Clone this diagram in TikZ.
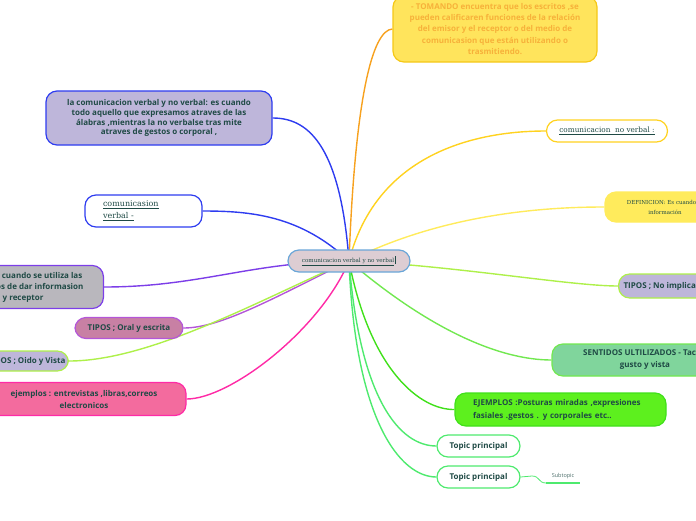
\documentclass[tikz,border=0pt]{standalone}
\usepackage{fontspec}
\setmainfont{Open Sans}
\newfontfamily\serifnode{DejaVu Serif}
\usetikzlibrary{backgrounds}

\definecolor{txt}{HTML}{1F4A45}
\definecolor{orangetxt}{HTML}{F7B13A}
\definecolor{yellowfill}{HTML}{FFE45C}
\definecolor{yellowline}{HTML}{F5C817}
\definecolor{lavender}{HTML}{BEB6DA}
\definecolor{bluebr}{HTML}{2E3CF0}
\definecolor{goldbr}{HTML}{FFD21F}
\definecolor{lemon}{HTML}{FFEB5C}
\definecolor{centerfill}{HTML}{DDCDD3}
\definecolor{centerline}{HTML}{6AA6D8}
\definecolor{greyfill}{HTML}{B9B7BD}
\definecolor{violetbr}{HTML}{7C3EE8}
\definecolor{mauve}{HTML}{C880A4}
\definecolor{orchid}{HTML}{B456D8}
\definecolor{lime}{HTML}{AEF04A}
\definecolor{pinkfill}{HTML}{F36B9E}
\definecolor{magentabr}{HTML}{FF2AA6}
\definecolor{mint}{HTML}{80D59C}
\definecolor{mintline}{HTML}{72E850}
\definecolor{neon}{HTML}{5DF01E}
\definecolor{neonline}{HTML}{40E01A}
\definecolor{topicline}{HTML}{4EEA6E}
\definecolor{orangebr}{HTML}{F7A11E}

\begin{document}
\begin{tikzpicture}[x=1pt, y=-1pt,
    box/.style={draw, line width=1.2pt, rounded corners=11pt, inner sep=0pt, text=txt,
        font=\fontsize{8}{11}\selectfont\bfseries, align=center},
    branch/.style={line width=1.4pt}]
\useasboundingbox (0,0) rectangle (696,520);

\node[box, fill=yellowfill, draw=yellowline, text=orangetxt, minimum width=204pt, minimum height=66pt,
    font=\fontsize{8}{11.3}\selectfont\bfseries] (tomando) at (495,29)
    {- TOMANDO encuentra que los escritos ,se\\pueden calificaren funciones de la relación\\del emisor y el receptor o del medio de\\comunicasion que están utilizando o\\trasmitiendo.};

\node[box, fill=lavender, draw=bluebr, minimum width=226pt, minimum height=54pt,
    font=\fontsize{8}{9.9}\selectfont\bfseries] (defverbal) at (159,118)
    {la comunicacion verbal y no verbal: es cuando\\todo aquello que expresamos atraves de las\\álabras ,mientras la no verbalse tras mite\\atraves de gestos o corporal ,};

\node[box, fill=white, draw=goldbr, minimum width=121pt, minimum height=22pt,
    font=\serifnode\fontsize{7.3}{9}\selectfont] (noverbal) at (607,131)
    {\underline{comunicacion\ \ no verbal :}};

\node[box, fill=lemon, draw=lemon, minimum width=120pt, minimum height=30pt,
    font=\serifnode\fontsize{5.5}{10}\selectfont] (definicion) at (665,207)
    {DEFINICION: Es cuando la\\información};

\node[box, fill=white, draw=bluebr, minimum width=117pt, minimum height=32pt, align=left,
    text width=81pt, font=\serifnode\fontsize{8}{12}\selectfont] (verbal) at (143.5,211)
    {\underline{comunicasion}\\\underline{verbal -}};

\node[box, fill=centerfill, draw=centerline, minimum width=122pt, minimum height=22pt,
    font=\serifnode\fontsize{5.6}{7}\selectfont] (central) at (349,261)
    {\underline{comunicacion verbal y no verbal}\,\rule[-1.5pt]{1pt}{8pt}};

\node[box, fill=greyfill, draw=violetbr, anchor=east, minimum height=43pt,
    inner xsep=20pt] (medios) at (104,287)
    {verbal es cuando se utiliza las\\los medios de dar informasion\\y receptor};

\node[box, fill=mauve, draw=orchid, minimum width=108pt, minimum height=21pt] (oral) at (129,328)
    {TIPOS ; Oral y escrita};

\node[box, fill=lavender, draw=lime, anchor=east, minimum height=20pt, inner xsep=3pt] (oido) at (69,361)
    {SENTIDOS ; Oido y Vista};

\node[box, fill=pinkfill, draw=magentabr, minimum width=204pt, minimum height=33pt,
    font=\fontsize{8}{12}\selectfont\bfseries] (ejemplos) at (84,399)
    {ejemplos : entrevistas ,libras,correos\\electronicos};

\node[box, fill=lavender, draw=lime, anchor=west, minimum height=24pt, inner xsep=5pt] (noimplica) at (618,286)
    {TIPOS ; No implica palabras};

\node[box, fill=mint, draw=mintline, minimum width=186pt, minimum height=32pt,
    font=\fontsize{8}{12}\selectfont\bfseries] (sentidos) at (645,360)
    {SENTIDOS ULTILIZADOS - Tacto,\\gusto y vista};

\node[box, fill=neon, draw=neonline, minimum width=211pt, minimum height=33pt, align=left,
    text width=175pt, font=\fontsize{8}{13}\selectfont\bfseries] (posturas) at (560.5,409.5)
    {EJEMPLOS :Posturas miradas ,expresiones\\fasiales .gestos . y corporales etc..};

\node[box, fill=white, draw=topicline, minimum width=83pt, minimum height=22pt] (topic1) at (478.5,446) {Topic principal};
\node[box, fill=white, draw=topicline, minimum width=83pt, minimum height=22pt] (topic2) at (478.5,477) {Topic principal};

\node[text=txt!80, font=\fontsize{5.5}{6}\selectfont, inner sep=1pt] (subtopic) at (563,476) {Subtopic};
\coordinate (sub1) at (546,483);
\coordinate (sub2) at (580,483);

\begin{scope}[on background layer]
\draw[branch, orangebr] (central.center) .. controls (355,100) and (372,30) .. (tomando.west);
\draw[branch, bluebr] (central.center) .. controls (340,140) and (305,118) .. (defverbal.east);
\draw[branch, goldbr] (central.center) .. controls (380,140) and (500,131) .. (noverbal.west);
\draw[branch, lemon] (central.center) .. controls (450,210) and (560,207) .. (definicion.west);
\draw[branch, bluebr] (central.center) .. controls (300,215) and (250,211) .. (verbal.east);
\draw[branch, violetbr] (central.center) .. controls (250,262) and (200,287) .. (medios.east);
\draw[branch, orchid] (central.center) .. controls (270,300) and (220,328) .. (oral.east);
\draw[branch, lime] (central.center) .. controls (260,300) and (150,361) .. (oido.east);
\draw[branch, magentabr] (central.center) .. controls (320,330) and (230,399) .. (ejemplos.east);
\draw[branch, lime] (central.center) .. controls (450,265) and (570,286) .. (noimplica.west);
\draw[branch, mintline] (central.center) .. controls (430,330) and (500,360) .. (sentidos.west);
\draw[branch, neonline] (central.center) .. controls (370,370) and (420,410) .. (posturas.west);
\draw[branch, topicline] (central.center) .. controls (360,400) and (400,446) .. (topic1.west);
\draw[branch, topicline] (central.center) .. controls (355,420) and (400,477) .. (topic2.west);
\draw[line width=0.8pt, topicline] (topic2.east) -- (532,476) .. controls (540,476) and (538,483) .. (sub1);
\draw[line width=1.4pt, topicline] (sub1) -- (sub2);
\end{scope}
\end{tikzpicture}
\end{document}
